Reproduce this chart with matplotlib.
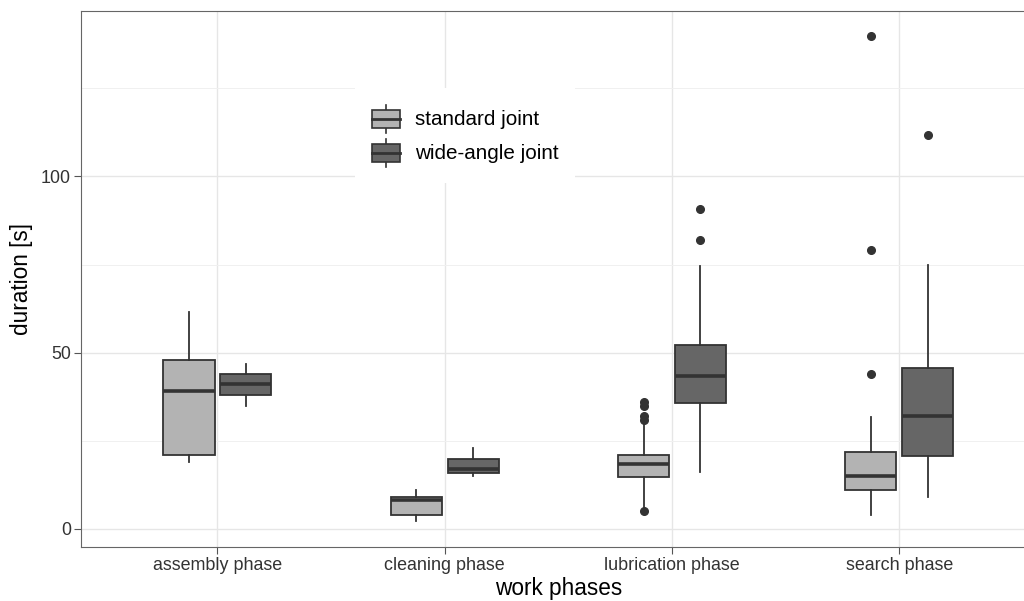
"""
Grouped box plot of work-phase durations: standard vs wide-angle joint.
Output: out.png
"""

import matplotlib.pyplot as plt
import matplotlib.patches as mpatches
from matplotlib.legend_handler import HandlerBase
from matplotlib.lines import Line2D

PHASES = ['assembly phase', 'cleaning phase', 'lubrication phase', 'search phase']

# standard joint (box statistics)
STD_WHISLO = [19.1, 2.3, 6.3, 4.0]
STD_Q1 = [21.0, 3.9, 14.8, 11.1]
STD_MED = [39.1, 8.3, 18.4, 15.0]
STD_Q3 = [47.9, 9.2, 21.0, 21.8]
STD_WHISHI = [61.6, 11.0, 30.0, 31.9]
STD_FLIERS = [[], [], [36.0, 35.0, 32.0, 31.0, 5.0], [139.8, 79.0, 44.0]]

# wide-angle joint
WIDE_WHISLO = [35.0, 15.0, 16.2, 9.2]
WIDE_Q1 = [37.9, 16.0, 35.8, 20.7]
WIDE_MED = [41.0, 17.1, 43.5, 32.0]
WIDE_Q3 = [44.0, 19.9, 52.3, 45.8]
WIDE_WHISHI = [46.9, 22.9, 74.7, 74.9]
WIDE_FLIERS = [[], [], [90.8, 81.9], [111.8]]

SERIES = ['standard joint', 'wide-angle joint']
FILLS = {'standard joint': '#B3B3B3', 'wide-angle joint': '#666666'}
EDGE = '#333333'


def make_stats(lo, q1, med, q3, hi, fliers):
    return [dict(whislo=a, q1=b, med=c, q3=d, whishi=e, fliers=f)
            for a, b, c, d, e, f in zip(lo, q1, med, q3, hi, fliers)]


class BoxKey(HandlerBase):
    def create_artists(self, legend, orig_handle, xdescent, ydescent,
                       width, height, fontsize, trans):
        x0, y0 = -xdescent, -ydescent
        cx = x0 + width / 2
        whisk = Line2D([cx, cx], [y0, y0 + height], color=EDGE, lw=1.2,
                       transform=trans)
        bh = height * 0.64
        box = mpatches.Rectangle((x0, y0 + (height - bh) / 2), width, bh,
                                 facecolor=orig_handle.get_facecolor(),
                                 edgecolor=EDGE, lw=1.2, transform=trans)
        med = Line2D([x0, x0 + width], [y0 + height / 2] * 2, color=EDGE,
                     lw=2.0, transform=trans)
        return [whisk, box, med]


def main():
    plt.rcParams['font.family'] = ['Liberation Sans', 'DejaVu Sans']

    fig = plt.figure(figsize=(10.24, 6.01), dpi=100)
    ax = fig.add_axes([0.0791, 0.0899, 0.9323, 0.891])

    base = list(range(1, len(PHASES) + 1))
    groups = {
        'standard joint': make_stats(STD_WHISLO, STD_Q1, STD_MED, STD_Q3,
                                     STD_WHISHI, STD_FLIERS),
        'wide-angle joint': make_stats(WIDE_WHISLO, WIDE_Q1, WIDE_MED, WIDE_Q3,
                                       WIDE_WHISHI, WIDE_FLIERS),
    }
    offsets = {'standard joint': -0.125, 'wide-angle joint': 0.125}

    for name in SERIES:
        ax.bxp(groups[name], positions=[p + offsets[name] for p in base],
               widths=0.225, patch_artist=True, showcaps=False,
               manage_ticks=False,
               boxprops=dict(facecolor=FILLS[name], edgecolor=EDGE, linewidth=1.3),
               medianprops=dict(color=EDGE, linewidth=2.6, solid_capstyle='butt'),
               whiskerprops=dict(color=EDGE, linewidth=1.3),
               flierprops=dict(marker='o', markerfacecolor=EDGE,
                               markeredgecolor=EDGE, markersize=5.5))

    ax.set_xlim(0.4, 4.6)
    ax.set_ylim(-5.1, 146.8)
    ax.set_xticks(base)
    ax.set_xticklabels(PHASES)
    ax.set_yticks([0, 50, 100])
    ax.set_yticks([25, 75, 125], minor=True)

    ax.set_axisbelow(True)
    ax.grid(which='major', color='#E6E6E6', linewidth=1.0)
    ax.grid(which='minor', axis='y', color='#F0F0F0', linewidth=0.7)

    for sp in ax.spines.values():
        sp.set_color('#666666')
        sp.set_linewidth(0.8)

    ax.tick_params(which='major', length=5, width=0.8, color='#555555',
                   labelsize=12.9, labelcolor='#333333', pad=2.2)
    ax.tick_params(which='minor', length=0)

    ax.set_xlabel('work phases', fontsize=16.3, labelpad=2)
    ax.set_ylabel('duration [s]', fontsize=16.3, labelpad=6)

    handles = [mpatches.Patch(facecolor=FILLS[n], label=n) for n in SERIES]
    leg = ax.legend(handles=handles, handler_map={mpatches.Patch: BoxKey()},
                    loc='upper left', bbox_to_anchor=(0.2875, 0.857),
                    borderaxespad=0, fontsize=14.9, frameon=True,
                    fancybox=False, framealpha=1, borderpad=0.8,
                    handlelength=1.35, handleheight=1.7, handletextpad=0.72,
                    labelspacing=0.3)
    leg.get_frame().set_facecolor('white')
    leg.get_frame().set_linewidth(0)

    fig.savefig('out.png', dpi=100)


if __name__ == '__main__':
    main()
